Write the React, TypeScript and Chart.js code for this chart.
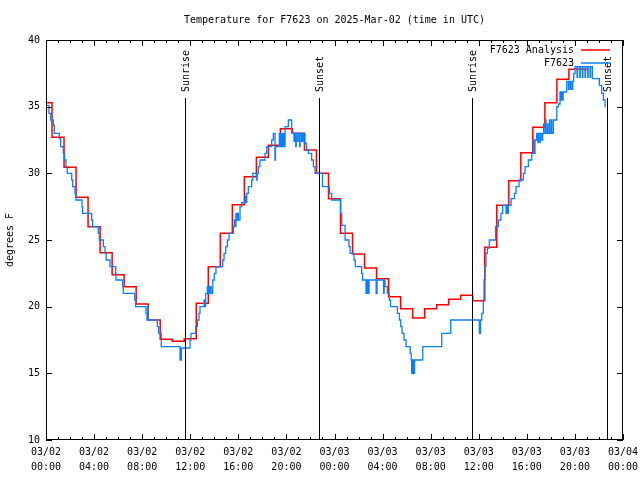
import React, { useEffect, useRef } from "react";
import { Chart, registerables } from "chart.js";

Chart.register(...registerables);

const FONT = "'DejaVu Sans Mono', 'Liberation Mono', monospace";

const chartTitle = "Temperature for F7623 on 2025-Mar-02 (time in UTC)";
const yAxisTitle = "degrees F";
const analysisLabel = "F7623 Analysis";
const obsLabel = "F7623";

// x axis: hours since 2025-03-02 00:00 UTC, labelled every 4 hours
const xTickLabels = [
  ["03/02", "00:00"], ["03/02", "04:00"], ["03/02", "08:00"], ["03/02", "12:00"],
  ["03/02", "16:00"], ["03/02", "20:00"], ["03/03", "00:00"], ["03/03", "04:00"],
  ["03/03", "08:00"], ["03/03", "12:00"], ["03/03", "16:00"], ["03/03", "20:00"],
  ["03/04", "00:00"],
];

// Analysis (hourly)
const analysisHours = [
  0, 1, 2, 3, 4, 5, 6, 7, 8, 9, 10, 11, 12, 13, 14, 15, 16, 17, 18, 19, 20, 21, 22, 23,
  24, 25, 26, 27, 28, 29, 30, 31, 32, 33, 34, 35, 36, 37, 38, 39, 40, 41, 42, 43, 44, 45,
];
const analysisTemps = [
  35.3, 32.7, 30.45, 28.2, 26.0, 24.05, 22.4, 21.5, 20.2, 19.0, 17.55, 17.4, 17.6, 20.25,
  23.0, 25.5, 27.65, 29.75, 31.2, 32.1, 33.35, 33.0, 31.75, 30.0, 28.1, 25.5, 23.95, 22.9,
  22.1, 20.75, 19.85, 19.15, 19.85, 20.15, 20.55, 20.85, 20.45, 24.45, 27.6, 29.45, 31.55,
  33.45, 35.3, 37.05, 37.8, 37.8,
];

// Observations (each value holds until the next time)
const obsHours = [
  0.0, 0.25, 0.39, 0.61, 0.69, 1.11, 1.22, 1.44, 1.55, 1.66,
  1.77, 2.14, 2.22, 2.41, 2.5, 3.0, 3.05, 3.8, 3.88, 4.35,
  4.44, 4.77, 4.91, 5.0, 5.32, 5.8, 5.82, 6.38, 6.43, 7.38,
  7.46, 8.32, 8.4, 8.46, 8.49, 9.26, 9.37, 9.59, 11.15, 11.19,
  11.23, 11.27, 11.98, 12.06, 12.45, 12.59, 12.73, 12.81, 13.15, 13.18,
  13.22, 13.25, 13.28, 13.42, 13.46, 13.55, 13.6, 13.7, 13.74, 13.87,
  14.0, 14.14, 14.7, 14.81, 14.95, 15.09, 15.23, 15.59, 15.67, 15.72,
  15.8, 15.85, 15.95, 16.0, 16.14, 16.28, 16.56, 16.62, 16.7, 16.83,
  17.11, 17.2, 17.53, 17.57, 17.66, 17.8, 18.22, 18.36, 18.77, 18.91,
  19.05, 19.09, 19.41, 19.52, 19.61, 19.68, 19.75, 19.8, 19.89, 20.16,
  20.44, 20.63, 20.67, 20.78, 20.82, 20.94, 20.98, 21.1, 21.14, 21.26,
  21.3, 21.4, 21.44, 21.54, 21.68, 21.82, 22.1, 22.24, 22.38, 23.0,
  23.57, 23.77, 24.51, 24.6, 24.88, 25.2, 25.3, 25.62, 25.73, 26.26,
  26.34, 26.62, 26.7, 26.8, 26.88, 27.46, 27.54, 28.08, 28.13, 28.2,
  28.4, 28.56, 28.66, 29.23, 29.4, 29.51, 29.62, 29.78, 29.95, 30.3,
  30.38, 30.42, 30.5, 30.58, 30.66, 31.34, 32.92, 33.67, 36.05, 36.15,
  36.25, 36.38, 36.44, 36.52, 36.6, 36.72, 36.88, 37.4, 37.63, 37.85,
  37.99, 38.27, 38.32, 38.38, 38.46, 38.69, 38.97, 39.1, 39.35, 39.71,
  39.85, 40.13, 40.41, 40.55, 40.59, 40.68, 40.82, 40.92, 40.96, 41.08,
  41.12, 41.24, 41.32, 41.4, 41.44, 41.56, 41.6, 41.72, 41.76, 41.88,
  41.92, 42.04, 42.08, 42.21, 42.49, 42.62, 42.76, 42.86, 42.9, 42.98,
  43.02, 43.32, 43.46, 43.5, 43.62, 43.66, 43.78, 43.82, 43.9, 44.01,
  44.18, 44.22, 44.4, 44.44, 44.62, 44.66, 44.84, 44.88, 45.06, 45.1,
  45.26, 45.3, 45.45, 46.03, 46.23, 46.37, 46.51, 46.56,
];
const obsTemps = [
  35.1, 34.5, 34.0, 33.6, 33.0, 32.6, 32.0, 31.5, 31.0, 30.5,
  30.0, 29.5, 29.0, 28.5, 28.0, 27.5, 27.0, 26.5, 26.0, 25.5,
  25.0, 24.5, 24.0, 23.5, 23.0, 22.5, 22.0, 21.5, 21.0, 20.5,
  20.0, 19.5, 19.0, 20.0, 19.0, 18.5, 18.0, 17.0, 16.0, 16.9,
  16.0, 16.9, 17.5, 18.0, 18.5, 19.0, 19.5, 20.0, 20.5, 20.0,
  20.5, 20.0, 21.0, 21.5, 21.0, 21.5, 21.0, 21.5, 21.0, 22.0,
  22.5, 23.0, 23.5, 24.0, 24.5, 25.0, 25.5, 26.0, 26.5, 26.0,
  27.0, 26.5, 27.0, 26.5, 27.5, 27.8, 28.3, 27.8, 28.5, 29.0,
  29.5, 30.0, 29.5, 30.0, 30.5, 31.0, 31.5, 32.0, 32.5, 33.0,
  31.0, 32.0, 33.0, 32.0, 33.0, 32.0, 33.0, 32.0, 33.5, 34.0,
  33.0, 32.4, 33.0, 32.0, 33.0, 32.4, 33.0, 32.0, 33.0, 32.4,
  33.0, 32.4, 33.0, 32.25, 31.75, 31.5, 31.0, 30.5, 30.0, 29.0,
  28.5, 28.0, 27.0, 26.1, 25.0, 24.5, 24.0, 23.5, 23.0, 22.5,
  22.0, 21.0, 22.0, 21.0, 22.0, 21.0, 22.0, 21.0, 22.0, 21.5,
  21.0, 20.5, 20.0, 19.5, 19.0, 18.5, 18.0, 17.5, 17.0, 16.5,
  16.0, 15.0, 16.0, 15.0, 16.0, 17.0, 18.0, 19.0, 18.0, 19.0,
  19.5, 20.5, 22.0, 23.0, 24.0, 24.4, 25.0, 26.0, 26.5, 27.0,
  27.6, 27.0, 27.6, 27.0, 27.6, 28.1, 28.5, 29.0, 29.5, 30.0,
  30.5, 31.0, 31.5, 32.5, 31.5, 32.5, 33.0, 32.3, 33.0, 32.3,
  33.0, 32.5, 33.0, 33.7, 33.0, 34.0, 33.0, 33.7, 33.0, 34.0,
  33.0, 34.0, 33.0, 34.0, 35.0, 35.2, 36.1, 35.5, 36.1, 35.5,
  36.1, 36.9, 36.3, 36.9, 36.3, 36.9, 36.3, 36.9, 37.5, 38.0,
  37.2, 38.0, 37.2, 38.0, 37.2, 38.0, 37.2, 38.0, 37.2, 38.0,
  37.2, 38.0, 37.1, 36.6, 36.0, 35.5, 35.0, 35.0,
];

// Sunrise / sunset markers (hours since 03/02 00:00 UTC)
const sunEventHours = [11.6, 22.74, 35.47, 46.7];
const sunEventLabels = ["Sunrise", "Sunset", "Sunrise", "Sunset"];

const decorPlugin = {
  id: "gnuplotDecor",
  afterDraw(chart: any) {
    const { ctx, chartArea } = chart;
    const { left, right, top, bottom } = chartArea;
    const xs = chart.scales.x;
    const ys = chart.scales.y;
    ctx.save();
    ctx.strokeStyle = "#000";
    ctx.fillStyle = "#000";
    ctx.lineWidth = 1;

    // frame
    ctx.strokeRect(Math.round(left) + 0.5, Math.round(top) + 0.5, Math.round(right - left) - 1, Math.round(bottom - top) - 1);

    // x ticks (hourly minor, 4-hourly major), inward on bottom and top
    ctx.beginPath();
    for (let h = 0; h <= 48; h++) {
      const px = Math.round(xs.getPixelForValue(h)) + 0.5;
      const len = h % 4 === 0 ? 6 : 3;
      ctx.moveTo(px, bottom);
      ctx.lineTo(px, bottom - len);
      ctx.moveTo(px, top);
      ctx.lineTo(px, top + len);
    }
    // y ticks
    for (let v = 10; v <= 40; v += 5) {
      const py = Math.round(ys.getPixelForValue(v)) + 0.5;
      ctx.moveTo(left, py);
      ctx.lineTo(left + 6, py);
      ctx.moveTo(right, py);
      ctx.lineTo(right - 6, py);
    }
    ctx.stroke();

    // sunrise / sunset lines
    ctx.font = `10px ${FONT}`;
    sunEventHours.forEach((h, i) => {
      const px = Math.round(xs.getPixelForValue(h)) + 0.5;
      ctx.beginPath();
      ctx.moveTo(px, top + 58);
      ctx.lineTo(px, bottom);
      ctx.stroke();
      ctx.save();
      ctx.translate(px + 1, top + 52);
      ctx.rotate(-Math.PI / 2);
      ctx.textAlign = "left";
      ctx.textBaseline = "middle";
      ctx.fillText(sunEventLabels[i], 0, 0);
      ctx.restore();
    });

    // title
    ctx.textAlign = "center";
    ctx.textBaseline = "middle";
    ctx.fillText(chartTitle, (left + right) / 2, 20);

    // legend
    const ds = chart.data.datasets;
    [ds[0], ds[1]].forEach((d: any, i: number) => {
      const y = top + 10 + i * 13;
      ctx.textAlign = "right";
      ctx.textBaseline = "middle";
      ctx.fillStyle = "#000";
      ctx.fillText(d.label, right - 49, y);
      ctx.strokeStyle = d.borderColor;
      ctx.lineWidth = 1.5;
      ctx.beginPath();
      ctx.moveTo(right - 42, y);
      ctx.lineTo(right - 13, y);
      ctx.stroke();
    });
    ctx.restore();
  },
};

export default function App() {
  const ref = useRef<HTMLCanvasElement | null>(null);
  useEffect(() => {
    if (!ref.current) return;
    const analysisData = analysisHours.map((h, i) => ({ x: h, y: analysisTemps[i] }));
    const obsData = obsHours.map((h, i) => ({ x: h, y: obsTemps[i] }));
    const chart = new Chart(ref.current, {
      type: "line",
      data: {
        datasets: [
          {
            label: analysisLabel,
            data: analysisData,
            borderColor: "#ff0000",
            borderWidth: 1.5,
            pointRadius: 0,
            stepped: "middle",
            order: 1,
          },
          {
            label: obsLabel,
            data: obsData,
            borderColor: "#0a80ff",
            borderWidth: 1.3,
            pointRadius: 0,
            stepped: "before",
            order: 0,
          },
        ],
      },
      options: {
        animation: false,
        responsive: false,
        maintainAspectRatio: false,
        layout: { padding: { top: 40, right: 17, left: 0, bottom: 0 } },
        plugins: {
          legend: { display: false },
          title: { display: false },
          tooltip: { enabled: false },
        },
        scales: {
          x: {
            type: "linear",
            min: 0,
            max: 48,
            grid: { display: false, drawTicks: false },
            border: { display: false },
            ticks: {
              stepSize: 4,
              autoSkip: false,
              maxRotation: 0,
              minRotation: 0,
              padding: 5,
              color: "#000",
              font: { family: FONT, size: 10, lineHeight: 1.5 },
              callback: (v: any) => xTickLabels[Math.round(Number(v) / 4)],
            },
            afterFit: (s: any) => {
              s.height = 40;
              s.paddingLeft = 0;
              s.paddingRight = 0;
            },
          },
          y: {
            min: 10,
            max: 40,
            grid: { display: false, drawTicks: false },
            border: { display: false },
            ticks: {
              stepSize: 5,
              padding: 6,
              color: "#000",
              font: { family: FONT, size: 10 },
            },
            title: {
              display: true,
              text: yAxisTitle,
              color: "#000",
              font: { family: FONT, size: 10 },
              padding: { top: 4, bottom: 0 },
            },
            afterFit: (s: any) => {
              s.width = 46;
              s.paddingTop = 0;
              s.paddingBottom = 0;
            },
          },
        },
      },
      plugins: [decorPlugin],
    });
    return () => chart.destroy();
  }, []);
  return (
    <div style={{ position: "fixed", left: 0, top: 0, width: 640, height: 480, background: "#fff" }}>
      <canvas ref={ref} width={640} height={480} style={{ width: 640, height: 480, display: "block" }} />
    </div>
  );
}
